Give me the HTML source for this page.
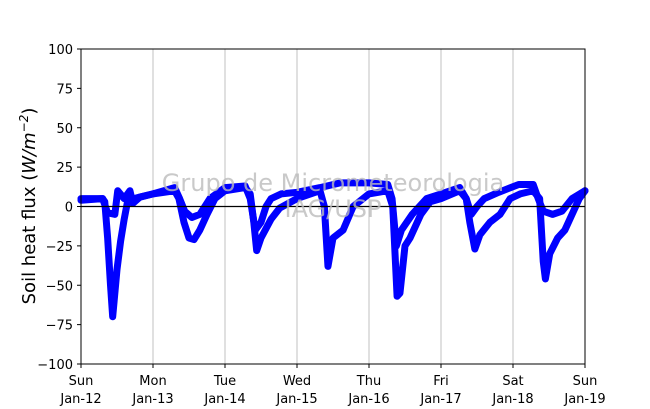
<!DOCTYPE html>
<html><head><meta charset="utf-8"><style>
body{margin:0;background:#fff}
svg{display:block;font-family:"DejaVu Sans","Liberation Sans",sans-serif}
</style></head><body>
<svg id="c" width="650" height="409">
<rect x="0" y="0" width="650" height="409" fill="#fff"/>
<g id="grid"></g>
<g id="series"></g>
<line id="zero" stroke="#000" stroke-width="1.3"/>
<rect x="81" y="49" width="504" height="315" fill="none" stroke="#000" stroke-width="1"/>
<g id="axes"></g>
<text x="333" y="191" text-anchor="middle" font-size="24" fill="#bbb" fill-opacity="0.8">Grupo de Micrometeorologia</text>
<text x="333" y="217" text-anchor="middle" font-size="24" fill="#bbb" fill-opacity="0.8">IAG/USP</text>
<text transform="translate(35,206) rotate(-90)" text-anchor="middle" font-size="18">Soil heat flux (<tspan font-style="italic">W/m</tspan><tspan font-style="italic" font-size="12" dy="-7">−2</tspan><tspan dy="7">)</tspan></text>
</svg>
<script>
const yTicks=[100,75,50,25,0,-25,-50,-75,-100];
const xDays=[0,1,2,3,4,5,6,7];
const xWeekday=["Sun","Mon","Tue","Wed","Thu","Fri","Sat","Sun"];
const xDate=["Jan-12","Jan-13","Jan-14","Jan-15","Jan-16","Jan-17","Jan-18","Jan-19"];
const seriesADays=[0,0.3,0.33,0.37,0.41,0.44,0.46,0.5,0.55,0.6,0.65,0.82,1,1.3,1.36,1.43,1.5,1.57,1.65,1.75,1.86,2,2.28,2.35,2.4,2.44,2.5,2.64,2.76,3,3.32,3.38,3.43,3.5,3.64,3.78,4,4.26,4.33,4.39,4.43,4.5,4.57,4.72,4.85,5,5.26,5.35,5.4,5.47,5.54,5.68,5.82,5.96,6.1,6.28,6.37,6.42,6.45,6.51,6.62,6.72,6.82,6.92,7];
const seriesAVals=[4,5,3,-20,-50,-70,-60,-40,-22,-8,4,6,8,10,5,-10,-20,-21,-15,-5,5,10,12,8,-10,-28,-20,-8,-1,5,10,0,-38,-20,-15,0,8,10,0,-57,-55,-25,-20,-5,3,5,10,5,-10,-27,-18,-10,-5,5,8,10,5,-35,-46,-30,-20,-15,-5,5,10];
const seriesBDays=[0,0.3,0.37,0.47,0.51,0.6,0.68,0.72,0.82,1,1.3,1.37,1.44,1.54,1.65,1.79,2,2.28,2.35,2.42,2.5,2.57,2.64,2.78,3,3.32,3.6,4,4.26,4.32,4.38,4.45,4.6,4.8,5,5.26,5.35,5.42,5.5,5.6,5.8,6.08,6.28,6.35,6.42,6.55,6.68,6.82,7];
const seriesBVals=[5,5,-4,-5,10,5,10,2,6,8,12,5,-3,-7,-5,5,12,13,5,-15,-10,0,5,8,9,12,15,15,14,5,-25,-15,-5,5,8,12,5,-5,0,5,9,14,14,5,-3,-5,-3,5,10];
const X0=81,X1=585,Y0=49,Y1=364;
const xs=d=>X0+(X1-X0)*d/7;
const ys=v=>Y0+(Y1-Y0)*(100-v)/200;
const NS="http://www.w3.org/2000/svg";
const grid=document.getElementById('grid'),axes=document.getElementById('axes'),ser=document.getElementById('series');
function mk(t,a,p){const e=document.createElementNS(NS,t);for(const k in a)e.setAttribute(k,a[k]);p.appendChild(e);return e;}
xDays.forEach((d,i)=>{
 if(i>0&&i<xDays.length-1){const g=mk('line',{x1:xs(d),x2:xs(d),y1:Y0,y2:Y1,stroke:'#c0c0c0','stroke-width':1},grid);
 
 }
 const t=mk('line',{x1:xs(d),x2:xs(d),y1:Y1,y2:Y1+4,stroke:'#000'},axes);
 
 
 const l=mk('text',{x:xs(d),y:Y1+21,'text-anchor':'middle','font-size':13},axes);
 
 
 l.textContent=xWeekday[i];
 const l2=mk('text',{x:xs(d),y:Y1+39,'text-anchor':'middle','font-size':13},axes);
 
 
 l2.textContent=xDate[i];
});
yTicks.forEach(v=>{
 const t=mk('line',{x1:X0-4,x2:X0,y1:ys(v),y2:ys(v),stroke:'#000'},axes);
 
 
 const l=mk('text',{x:X0-8,y:ys(v)+5,'text-anchor':'end','font-size':13},axes);
 
 
 l.textContent=v<0?'\u2212'+(-v):String(v);
});
const z=document.getElementById('zero');
z.setAttribute('x1',X0);z.setAttribute('x2',X1);z.setAttribute('y1',ys(0));z.setAttribute('y2',ys(0));
function draw(days,vals,name){
 const pts=days.map((d,i)=>xs(d)+','+ys(vals[i])).join(' ');
 const p=mk('polyline',{points:pts,fill:'none',stroke:'#0000ff','stroke-width':7,'stroke-linejoin':'round','stroke-linecap':'round'},ser);
 
 
}
draw(seriesADays,seriesAVals,'series-sensor-a');
draw(seriesBDays,seriesBVals,'series-sensor-b');
</script>
</body></html>
